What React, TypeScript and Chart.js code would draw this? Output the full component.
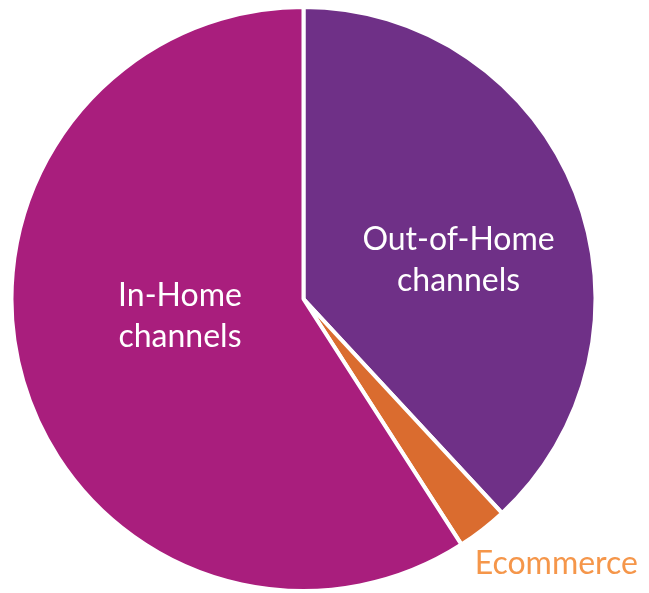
import React, { useEffect, useRef } from "react";
import { Chart, registerables } from "chart.js";

Chart.register(...registerables);

// Channel shares (percent), clockwise from 12 o'clock
const channels = ["Out-of-Home channels", "Ecommerce", "In-Home channels"];
const shares = [38.1, 2.8, 59.1];
const sliceColors = ["#6F3087", "#DA6C2F", "#A91E7D"];

// Label text per slice (multi-line), its colour and its anchor relative to the pie
// centre in units of the outer radius
const labelLines = [["Out-of-Home", "channels"], ["Ecommerce"], ["In-Home", "channels"]];
const labelColors = ["#FFFFFF", "#F5964A", "#FFFFFF"];
const labelAnchors: [number, number][] = [
  [0.531, -0.134],
  [0.866, 0.908],
  [-0.423, 0.059],
];

const sliceLabels = {
  id: "sliceLabels",
  afterDatasetsDraw(chart: any) {
    const meta = chart.getDatasetMeta(0);
    const ctx = chart.ctx;
    ctx.save();
    ctx.font = "32px Lato";
    ctx.textAlign = "center";
    ctx.textBaseline = "middle";
    meta.data.forEach((arc: any, i: number) => {
      const { x, y, outerRadius } = arc.getProps(["x", "y", "outerRadius"], true);
      const cx = x + labelAnchors[i][0] * outerRadius;
      const cy = y + labelAnchors[i][1] * outerRadius;
      const lines = labelLines[i];
      const lh = 41;
      ctx.fillStyle = labelColors[i];
      lines.forEach((t, k) => {
        ctx.fillText(t, cx, cy + (k - (lines.length - 1) / 2) * lh);
      });
    });
    ctx.restore();
  },
};

export default function App() {
  const ref = useRef<HTMLCanvasElement>(null);
  useEffect(() => {
    document.body.style.margin = "0";
    const chart = new Chart(ref.current!, {
      type: "pie",
      data: {
        labels: channels,
        datasets: [
          {
            data: shares,
            backgroundColor: sliceColors,
            borderColor: "#FFFFFF",
            borderWidth: 4,
          },
        ],
      },
      options: {
        responsive: false,
        animation: false,
        layout: { padding: { top: 5, bottom: -3, left: 9, right: 51 } },
        plugins: {
          legend: { display: false },
          tooltip: { enabled: false },
        },
      },
      plugins: [sliceLabels],
    });
    return () => chart.destroy();
  }, []);
  return (
    <div style={{ width: 649, height: 593, background: "#fff" }}>
      <canvas ref={ref} width={649} height={593} />
    </div>
  );
}
